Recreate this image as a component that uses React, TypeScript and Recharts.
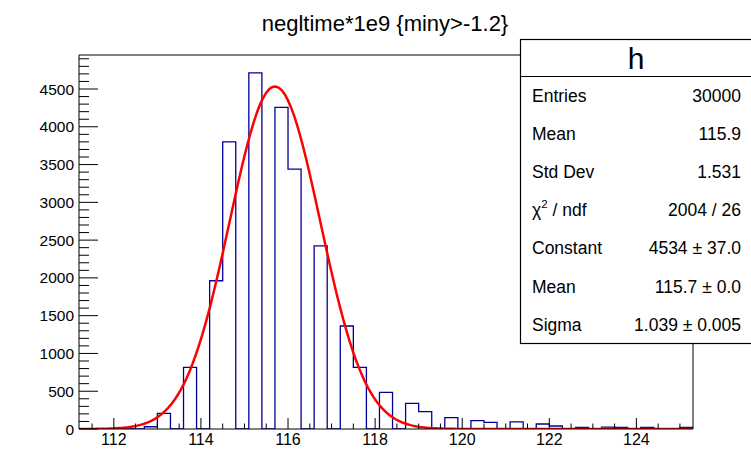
import { ComposedChart, Line, XAxis, YAxis } from "recharts";

// histogram: 47 bins of 0.3 starting at 111.2
const binStart = 111.2;
const binWidth = 0.3;
const binCounts = [
  0, 0, 0, 0, 0, 30, 207, 0, 816, 0,
  1962, 3800, 0, 4714, 0, 4256, 3440, 0, 2425, 0,
  1363, 816, 0, 485, 0, 340, 229, 0, 150, 0,
  110, 88, 0, 93, 0, 66, 40, 0, 22, 0,
  25, 20, 0, 20, 0, 0, 20,
];

// gaus fit parameters from the stats box
const fitConstant = 4534;
const fitMean = 115.7;
const fitSigma = 1.039;

const xMajor = [112, 114, 116, 118, 120, 122, 124];
const xTicks = Array.from({ length: 28 }, (_, i) => 111.5 + i * 0.5);
const yMajor = [0, 500, 1000, 1500, 2000, 2500, 3000, 3500, 4000, 4500];
const yTicks = Array.from({ length: 50 }, (_, i) => i * 100);

const statRows = [
  ["Entries", "30000"],
  ["Mean", "115.9"],
  ["Std Dev", "1.531"],
  ["chi2", "2004 / 26"],
  ["Constant", "4534 ± 37.0"],
  ["Mean", "115.7 ± 0.0"],
  ["Sigma", "1.039 ± 0.005"],
];

const xMin = binStart;
const xMax = binStart + binWidth * binCounts.length;

const histData = binCounts
  .map((c, i) => ({ x: +(binStart + i * binWidth).toFixed(2), count: c }))
  .concat([{ x: +xMax.toFixed(2), count: 0 }]);

// TF1 is drawn from its parameters over the full axis range
const fitData = Array.from({ length: 201 }, (_, i) => {
  const x = xMin + ((xMax - xMin) * i) / 200;
  const z = (x - fitMean) / fitSigma;
  return { x, fit: fitConstant * Math.exp(-0.5 * z * z) };
});

const font = "'Liberation Sans', Arial, Helvetica, sans-serif";

function XTick(props: any) {
  const { x, y, payload } = props;
  const v = payload.value;
  const major = xMajor.some((m) => Math.abs(m - v) < 1e-6);
  return (
    <g>
      <line x1={x} x2={x} y1={y} y2={y - (major ? 11 : 5.5)} stroke="#000" />
      {major && (
        <text x={x} y={y + 16} textAnchor="middle" fontSize={16} fontFamily={font} fill="#000">
          {v}
        </text>
      )}
    </g>
  );
}

function YTick(props: any) {
  const { x, y, payload } = props;
  const v = payload.value;
  const major = yMajor.includes(v);
  return (
    <g>
      <line x1={x} x2={x + (major ? 19 : 10)} y1={y} y2={y} stroke="#000" />
      {major && (
        <text
          x={x - 5}
          y={y}
          textAnchor="end"
          dominantBaseline="central"
          fontSize={15.5}
          fontFamily={font}
          fill="#000"
        >
          {v}
        </text>
      )}
    </g>
  );
}

export default function App() {
  return (
    <div style={{ position: "relative", width: 751, height: 471, background: "#fff" }}>
      <style>{"body{margin:0}"}</style>
      <ComposedChart width={751} height={471} margin={{ top: 54, right: 57, bottom: 41, left: 78 }}>
        <XAxis
          dataKey="x"
          type="number"
          domain={[xMin, xMax]}
          allowDataOverflow
          ticks={xTicks}
          interval={0}
          height={1}
          tickSize={0}
          tickMargin={0}
          tickLine={false}
          tick={<XTick />}
          axisLine={{ stroke: "#000" }}
        />
        <XAxis
          xAxisId="top"
          orientation="top"
          dataKey="x"
          type="number"
          domain={[xMin, xMax]}
          allowDataOverflow
          height={1}
          tick={false}
          tickLine={false}
          axisLine={{ stroke: "#000" }}
        />
        <YAxis
          type="number"
          domain={[0, 4950]}
          allowDataOverflow
          ticks={yTicks}
          interval={0}
          width={1}
          tickSize={0}
          tickMargin={0}
          tickLine={false}
          tick={<YTick />}
          axisLine={{ stroke: "#000" }}
        />
        <YAxis
          yAxisId="right"
          orientation="right"
          type="number"
          domain={[0, 4950]}
          allowDataOverflow
          width={1}
          tick={false}
          tickLine={false}
          axisLine={{ stroke: "#000" }}
        />
        <Line
          data={histData}
          dataKey="count"
          type="stepAfter"
          stroke="#000099"
          strokeWidth={1.3}
          dot={false}
          activeDot={false}
          isAnimationActive={false}
        />
        <Line
          data={fitData}
          dataKey="fit"
          type="linear"
          stroke="#ff0000"
          strokeWidth={2.5}
          dot={false}
          activeDot={false}
          isAnimationActive={false}
        />
      </ComposedChart>
      <svg
        width={751}
        height={471}
        style={{ position: "absolute", left: 0, top: 0, pointerEvents: "none" }}
        fontFamily={font}
      >
        <text x={385} y={31} textAnchor="middle" fontSize={22} fill="#000">
          negltime*1e9 {"{miny>-1.2}"}
        </text>
        <rect x={520.5} y={39.5} width={240} height={304} fill="#fff" stroke="#000" strokeWidth={1.2} />
        <line x1={520.5} x2={760} y1={76.5} y2={76.5} stroke="#000" />
        <text x={636} y={58} textAnchor="middle" dominantBaseline="central" fontSize={30} fill="#000">
          h
        </text>
        {statRows.map(([label, value], i) => {
          const y = 96 + i * 38.1;
          return (
            <g key={i}>
              <text x={532} y={y} dominantBaseline="central" fontSize={17.5} fill="#000">
                {label === "chi2" ? (
                  <>
                    <tspan>χ</tspan>
                    <tspan dy={-6} fontSize={11.5}>2</tspan>
                    <tspan dy={6}> / ndf</tspan>
                  </>
                ) : (
                  label
                )}
              </text>
              <text x={741} y={y} textAnchor="end" dominantBaseline="central" fontSize={17.5} fill="#000">
                {value}
              </text>
            </g>
          );
        })}
      </svg>
    </div>
  );
}
